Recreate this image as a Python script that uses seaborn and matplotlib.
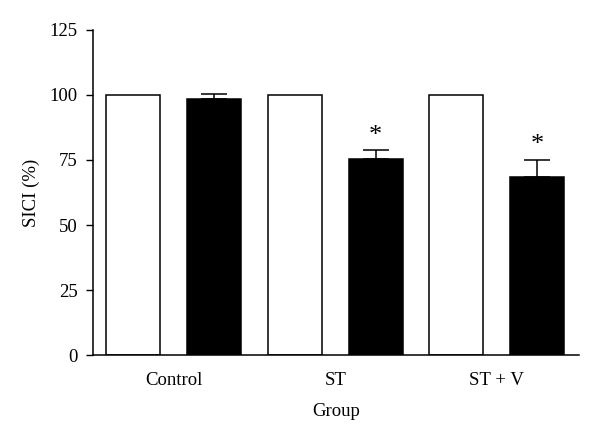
import numpy as np
import pandas as pd
import matplotlib.pyplot as plt
import seaborn as sns

groups = ["Control", "ST", "ST + V"]
conditions = ["Pre", "Post"]
pre_vals = [100, 100, 100]
post_vals = [98.6, 75.4, 68.3]
post_err = [1.8, 3.3, 6.8]
signif = ["", "*", "*"]

df = pd.DataFrame({
    "Group": groups * 2,
    "Condition": ["Pre"] * 3 + ["Post"] * 3,
    "SICI": pre_vals + post_vals,
})

sns.set_theme(style="ticks")
plt.rcParams["font.family"] = ["Liberation Serif", "DejaVu Serif"]

fig = plt.figure(figsize=(6, 4.4), dpi=100)
ax = fig.add_axes([0.155, 0.193, 0.81, 0.739])

sns.barplot(data=df, x="Group", y="SICI", hue="Condition", order=groups,
            hue_order=conditions, palette={"Pre": "white", "Post": "black"},
            width=1.0, gap=0.33, edgecolor="black", linewidth=1.1,
            errorbar=None, legend=False, ax=ax)

# error bars (upper only) on the black bars
post_bars = ax.containers[1]
xs = [p.get_x() + p.get_width() / 2 for p in post_bars]
ax.errorbar(xs, post_vals, yerr=[np.zeros(3), post_err], fmt="none",
            ecolor="black", elinewidth=1.1, capsize=9.5, capthick=1.1)

for x, v, e, s in zip(xs, post_vals, post_err, signif):
    if s:
        ax.text(x, v + e + 1.3, s, ha="center", va="bottom", fontsize=19,
                color="black")

ax.set_ylim(0, 125)
ax.set_yticks([0, 25, 50, 75, 100, 125])
ax.set_xlim(-0.5, 2.51)
fs = 13.5
ax.set_ylabel("SICI (%)", fontsize=fs, color="black", labelpad=7)
ax.set_xlabel("Group", fontsize=fs, color="black", labelpad=10)
ax.tick_params(axis="y", labelsize=fs, length=5, width=1, pad=6,
               colors="black")
ax.tick_params(axis="x", labelsize=fs, length=0, pad=12, colors="black")
# only the middle group shows a tick mark
ax.set_xticks([1], minor=True)
ax.tick_params(axis="x", which="minor", length=5, width=1, color="black")
for side in ["left", "bottom"]:
    ax.spines[side].set_linewidth(1.1)
    ax.spines[side].set_color("black")
sns.despine(ax=ax)

fig.savefig("out.png", dpi=100)
